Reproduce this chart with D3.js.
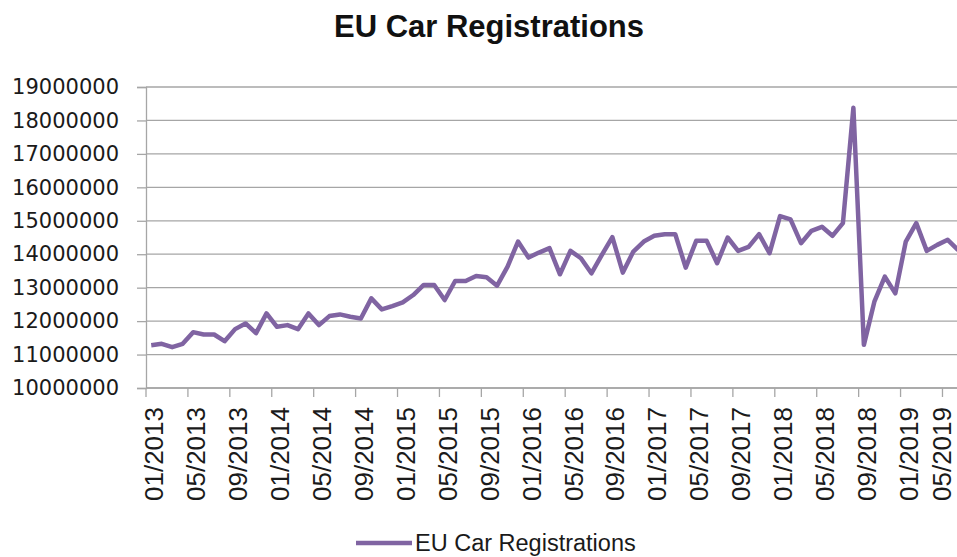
<!DOCTYPE html>
<html>
<head>
  <meta charset="utf-8">
  <title>EU Car Registrations</title>
  <style>
    body { margin: 0; background: #fff; }
    svg { display: block; }
  </style>
  <script src="https://d3js.org/d3.v7.min.js"></script>
</head>
<body>
<svg width="957" height="557"></svg>
<script>

// first month of the series, one value per month after that
const startMonth = new Date(2013, 0, 1);

// registrations, monthly, 01/2013 .. 06/2019
const registrations = [
  11280000, 11320000, 11220000, 11320000, 11670000, 11600000, 11600000, 11400000,
  11760000, 11930000, 11640000, 12230000, 11830000, 11880000, 11760000, 12230000,
  11880000, 12150000, 12200000, 12130000, 12080000, 12680000, 12350000, 12450000,
  12560000, 12780000, 13080000, 13080000, 12630000, 13200000, 13200000, 13350000,
  13310000, 13060000, 13630000, 14380000, 13900000, 14050000, 14180000, 13400000,
  14100000, 13880000, 13430000, 13980000, 14510000, 13450000, 14080000, 14380000,
  14550000, 14600000, 14600000, 13600000, 14400000, 14400000, 13730000, 14500000,
  14100000, 14220000, 14600000, 14030000, 15140000, 15040000, 14330000, 14700000,
  14820000, 14550000, 14930000, 18380000, 11290000, 12580000, 13330000, 12830000,
  14380000, 14930000, 14100000, 14280000, 14430000, 14120000
];

const yTicks = [10000000, 11000000, 12000000, 13000000, 14000000, 15000000,
                16000000, 17000000, 18000000, 19000000];

const labelEvery = 4;
const seriesName = "EU Car Registrations";

const fmtMonth = d3.timeFormat("%m/%Y");
const months = registrations.map((v, i) => fmtMonth(d3.timeMonth.offset(startMonth, i)));
const data = months.map((m, i) => ({ month: m, value: registrations[i] }));

const purple = "#8064a2";
const grey = "#a6a6a6";

const svg = d3.select("svg");

const plotLeft = 146, plotTop = 87, plotBottom = 388;
const step = 10.48;

let x = d3.scaleBand()
    .domain(months)
    .range([plotLeft, plotLeft + months.length * step])
    .padding(0);

let y = d3.scaleLinear()
    .domain([10000000, 19000000])
    .range([plotBottom, plotTop]);

// title
svg.append("text")
    .attr("x", 489)
    .attr("y", 37)
    .attr("text-anchor", "middle")
    .style("font-family", "Liberation Sans, Arial, sans-serif")
    .style("font-weight", "bold")
    .style("font-size", "31px")
    .style("fill", "#111")
    .text(seriesName);

// gridlines
svg.append("g")
    .selectAll("line")
    .data(yTicks)
    .enter().append("line")
      .attr("x1", plotLeft)
      .attr("x2", 957)
      .attr("y1", d => y(d))
      .attr("y2", d => y(d))
      .attr("stroke", grey)
      .attr("stroke-width", 1.3);

// y axis
const yAxis = svg.append("g")
    .attr("transform", `translate(${plotLeft},0)`)
    .call(d3.axisLeft(y).tickValues(yTicks).tickSize(9).tickPadding(18).tickFormat(d3.format("d")));

yAxis.select(".domain").attr("stroke", grey).attr("stroke-width", 1.3);
yAxis.selectAll(".tick line").attr("stroke", grey).attr("stroke-width", 1.3);
yAxis.selectAll("text")
    .style("font-family", "DejaVu Sans, Verdana, sans-serif")
    .style("font-size", "21px")
    .style("fill", "#1a1a1a");

// x axis line
svg.append("line")
    .attr("x1", plotLeft)
    .attr("x2", 957)
    .attr("y1", plotBottom)
    .attr("y2", plotBottom)
    .attr("stroke", grey)
    .attr("stroke-width", 1.3);

const labelled = months.filter((m, i) => i % labelEvery === 0);

// tick marks sit between categories
svg.append("g")
    .selectAll("line")
    .data(labelled)
    .enter().append("line")
      .attr("x1", d => x(d))
      .attr("x2", d => x(d))
      .attr("y1", plotBottom)
      .attr("y2", plotBottom + 9)
      .attr("stroke", grey)
      .attr("stroke-width", 1.3);

// keep the last label inside the picture
svg.append("g")
    .selectAll("text")
    .data(labelled)
    .enter().append("text")
      .attr("transform", d => `translate(${Math.min(x(d) + x.bandwidth() / 2 + 3, 942)},407) rotate(-90)`)
      .attr("text-anchor", "end")
      .attr("dy", "0.35em")
      .style("font-family", "Liberation Sans, Arial, sans-serif")
      .style("font-size", "26px")
      .style("fill", "#1a1a1a")
      .text(d => d);

// the series line
const line = d3.line()
    .x(d => x(d.month) + x.bandwidth() / 2)
    .y(d => y(d.value));

svg.append("path")
    .datum(data)
    .attr("fill", "none")
    .attr("stroke", purple)
    .attr("stroke-width", 4.5)
    .attr("stroke-linejoin", "round")
    .attr("d", line);

// legend
svg.append("line")
    .attr("x1", 356)
    .attr("x2", 412)
    .attr("y1", 543)
    .attr("y2", 543)
    .attr("stroke", purple)
    .attr("stroke-width", 4.5);

svg.append("text")
    .attr("x", 415)
    .attr("y", 551)
    .style("font-family", "Liberation Sans, Arial, sans-serif")
    .style("font-size", "23.5px")
    .style("fill", "#1a1a1a")
    .text(seriesName);

</script>
</body>
</html>
